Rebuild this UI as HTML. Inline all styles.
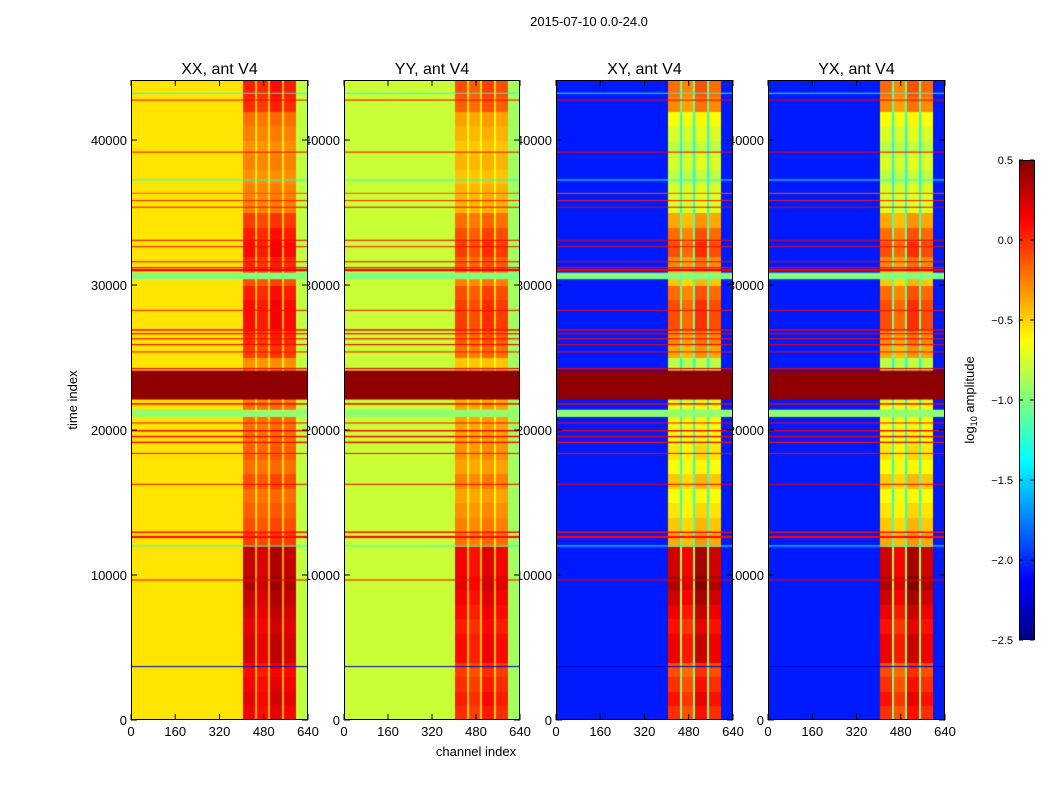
<!DOCTYPE html>
<html><head><meta charset="utf-8"><style>
body{margin:0;background:#fff;width:1050px;height:800px;overflow:hidden;position:relative;font-family:"Liberation Sans",sans-serif}
canvas{position:absolute;z-index:2}
svg{position:absolute;left:0;top:0}
#lab{z-index:1}#ov{z-index:3}
</style></head><body>
<svg id="lab" width="1050" height="800"></svg>
<canvas id="c0" width="177" height="640" style="left:131px;top:80px"></canvas>
<canvas id="c1" width="176" height="640" style="left:344px;top:80px"></canvas>
<canvas id="c2" width="177" height="640" style="left:556px;top:80px"></canvas>
<canvas id="c3" width="177" height="640" style="left:768px;top:80px"></canvas>
<canvas id="cb" width="15" height="480" style="left:1019px;top:160px"></canvas>
<svg id="ov" width="1050" height="800"></svg>
<script>
const panelTitles=["XX, ant V4","YY, ant V4","XY, ant V4","YX, ant V4"];
const xTicks=[0,160,320,480,640];
const yTicks=[0,10000,20000,30000,40000];
const cbTicks=[0.5,0.0,-0.5,-1.0,-1.5,-2.0,-2.5];
const baseLeft=[-0.55,-0.78,-2.05,-2.05];
const baseStripe=[-0.4,-0.55,-1.0,-1.0];
const baseGap=[-0.62,-0.7,-1.4,-1.4];
const baseEdge=[-0.8,-0.9,-2.05,-2.05];
const modGain=[1,1,1.8,1.8];
const colSegments=[[0,405,0],[405,450,1],[450,458,2],[458,496,1],[496,504,2],[504,546,1],[546,555,2],[555,598,1],[598,640,3]];
const stripeWeight=[1,0.9,1.1,1];
const hiMod=[0.55,0.6,0.55,0.5,0.65,0.65,0.6,0.65,0.7,0.75,0.7,0.7,0.35,0.3,0.25,0.2,0.3,0.2,0.25,0.2,0.2,0.2,0.15,0.1,0.1,0.35,0.4,0.5,0.5,0.45,0.3,0.4,0.5,0.45,0.35,0.15,0.15,0.1,0.15,0.1,0.15,0.2,0.4,0.45,0.45];
// row events: [t0,t1,value]
const rowEvents=[[43200,43260,-1.3],[42720,42790,0.15],[39130,39200,0.15],[37220,37280,-1.3],[36300,36360,-0.1],[35800,35860,0.05],[35330,35400,0.15],[33050,33120,0.15],[32620,32680,0.1],[31570,31640,0.15],[31180,31240,0.1],[30950,31120,0.15],[30400,30850,-1.0],[28220,28290,0.1],[26850,26950,0.15],[26600,26680,0.15],[26250,26330,0.1],[25850,25930,0.15],[25350,25420,0.1],[24200,24280,0.15],[22100,24100,0.45],[21750,21850,0.15],[20900,21400,-0.95],[20450,20520,0.1],[19900,20000,0.15],[19500,19600,0.15],[19100,19200,0.1],[18350,18420,0.1],[16220,16290,0.15],[12550,12700,0.1],[12900,13000,0.1],[11980,12040,-1.3],[9620,9690,0.15],[3650,3720,-2.3]];
const T_MAX=44140;
function jet(v){let x=(v+2.5)/3;x=Math.max(0,Math.min(1,x));
 const f=t=>Math.max(0,Math.min(1,1.5-Math.abs(4*x-t)));
 return 'rgb('+Math.round(255*f(3))+','+Math.round(255*f(2))+','+Math.round(255*f(1))+')';}
function xs(ch,w){return ch/640*w}
function ys(t){return 640-t/T_MAX*640}
for(let p=0;p<4;p++){
 const cv=document.getElementById('c'+p),ctx=cv.getContext('2d'),W=cv.width;
 const rows=Math.ceil(T_MAX/250);
 for(let r=0;r<rows;r++){
  const t0=r*250,t1=t0+250,m=hiMod[Math.min(hiMod.length-1,Math.floor(t0/1000))];
  let si=0;
  for(const s of colSegments){
   let v;
   if(s[2]===0)v=baseLeft[p];else if(s[2]===2)v=baseGap[p]+m*0.4*modGain[p];else if(s[2]===3)v=baseEdge[p];
   else{v=baseStripe[p]+m*modGain[p]*stripeWeight[si];si++;}
   ctx.fillStyle=jet(v);
   const x0=xs(s[0],W),x1=xs(s[1],W),y0=ys(t1),y1=ys(t0);
   ctx.fillRect(Math.floor(x0),Math.floor(y0),Math.ceil(x1-x0)+1,Math.ceil(y1-y0)+1);
  }
 }
 for(const e of rowEvents){
  ctx.fillStyle=jet(e[2]);
  const y0=ys(e[1]),y1=ys(e[0]);
  ctx.fillRect(0,y0,W,Math.max(1,y1-y0));
 }
}
const cb=document.getElementById('cb').getContext('2d');
for(let i=0;i<480;i++){cb.fillStyle=jet(0.5-i/480*3);cb.fillRect(0,i,15,1);}
const NS='http://www.w3.org/2000/svg';const ov=document.getElementById('ov');const lab=document.getElementById('lab');
function el(tag,a,txt,par){const e=document.createElementNS(NS,tag);for(const k in a)e.setAttribute(k,a[k]);if(txt!==undefined)e.textContent=txt;(par||ov).appendChild(e);return e;}
const lefts=[131,344,556,768],widths=[177,176,177,177];
for(let p=0;p<4;p++){
 const L=lefts[p],W=widths[p];
 const fr=el('rect',{x:L+0.5,y:80.5,width:W-1,height:639,fill:'none',stroke:'#000'});
 
 
 const tt=el('text',{x:L+W/2,y:74,'text-anchor':'middle','font-size':16},panelTitles[p]);
 
 
 for(const v of xTicks){const x=L+xs(v,W);
  el('line',{x1:x,x2:x,y1:720,y2:714,stroke:'#000'});el('line',{x1:x,x2:x,y1:80,y2:86,stroke:'#000'});
  const t=el('text',{x:x,y:736,'text-anchor':'middle','font-size':13},String(v),lab);
  
  }
 for(const v of yTicks){const y=80+ys(v);
  el('line',{x1:L,x2:L+6,y1:y,y2:y,stroke:'#000'});el('line',{x1:L+W-6,x2:L+W,y1:y,y2:y,stroke:'#000'});
  const t=el('text',{x:L-4,y:y+5,'text-anchor':'end','font-size':13},String(v),lab);
  
  }
}
el('rect',{x:1019.5,y:160.5,width:15,height:479,fill:'none',stroke:'#000'});
for(const v of cbTicks){const y=160+(0.5-v)/3*480;
 el('line',{x1:1019,x2:1023,y1:y,y2:y,stroke:'#000'});el('line',{x1:1030,x2:1034,y1:y,y2:y,stroke:'#000'});
 const t=el('text',{x:1013,y:y+4,'text-anchor':'end','font-size':11},(v<0?'\u2212':'')+Math.abs(v).toFixed(1));
 
 }
const st=el('text',{x:589,y:26,'text-anchor':'middle','font-size':13},'2015-07-10 0.0-24.0');


const yl=el('text',{x:0,y:0,'text-anchor':'middle','font-size':13,transform:'translate(77,400) rotate(-90)'},'time index');


const xl=el('text',{x:476,y:756,'text-anchor':'middle','font-size':13},'channel index');


const cl=el('text',{x:0,y:0,'text-anchor':'middle','font-size':13,transform:'translate(974,400) rotate(-90)'});


cl.innerHTML='log<tspan font-size="9" dy="3">10</tspan><tspan dy="-3"> amplitude</tspan>';
</script>
</body></html>
